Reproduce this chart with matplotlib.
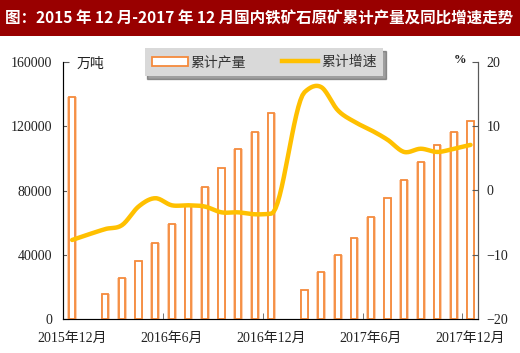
import matplotlib
matplotlib.use('Agg')
import matplotlib.pyplot as plt
from matplotlib.patches import Patch, Rectangle
from matplotlib.lines import Line2D
import numpy as np

plt.rcParams['font.family'] = ['Liberation Serif', 'Noto Sans CJK SC']

# months 2015-12 .. 2017-12 (January has no cumulative data)
months = ['2015-12', '2016-01', '2016-02', '2016-03', '2016-04', '2016-05', '2016-06',
          '2016-07', '2016-08', '2016-09', '2016-10', '2016-11', '2016-12',
          '2017-01', '2017-02', '2017-03', '2017-04', '2017-05', '2017-06',
          '2017-07', '2017-08', '2017-09', '2017-10', '2017-11', '2017-12']
output = [138400, np.nan, 15400, 25300, 36100, 47100, 59300, 70500, 82400, 94200,
          106000, 116400, 128300, np.nan, 18000, 29400, 39800, 50600, 63500,
          75300, 86500, 97600, 108300, 116200, 123300]      # 万吨
growth = [-7.7, np.nan, -6.0, -5.4, -2.5, -1.2, -2.3, -2.3, -2.5, -3.4, -3.4, -3.7,
          -3.6, np.nan, 15.3, 16.1, 12.5, 10.7, 9.4, 7.9, 6.0, 6.5, 6.0, 6.5, 7.1]   # %
tick_idx = [0, 6, 12, 18, 24]
tick_labels = ['2015年12月', '2016年6月', '2016年12月', '2017年6月', '2017年12月']

title = '图：2015 年 12 月-2017 年 12 月国内铁矿石原矿累计产量及同比增速走势'

bar_orange = '#f58a3c'
bar_pale = '#fcd0b0'
line_col = '#ffc000'
axis_col = '#595959'


def smooth(xs, ys, n=16):
    # cubic hermite curve through the points (only for drawing the smoothed line)
    xs = np.asarray(xs, float)
    ys = np.asarray(ys, float)
    h = np.diff(xs)
    d = np.diff(ys) / h
    m = np.zeros(len(xs))
    m[0], m[-1] = d[0], d[-1]
    for i in range(1, len(xs)-1):
        m[i] = (ys[i+1] - ys[i-1]) / (xs[i+1] - xs[i-1])
        if d[i-1]*d[i] > 0:
            lim = 3*min(abs(d[i-1]), abs(d[i]))
            m[i] = np.sign(m[i]) * min(abs(m[i]), lim)
    ox, oy = [], []
    for i in range(len(xs)-1):
        t = np.linspace(0, 1, n, endpoint=False)
        h00 = 2*t**3 - 3*t**2 + 1
        h10 = t**3 - 2*t**2 + t
        h01 = -2*t**3 + 3*t**2
        h11 = t**3 - t**2
        ox.extend(xs[i] + t*h[i])
        oy.extend(h00*ys[i] + h10*h[i]*m[i] + h01*ys[i+1] + h11*h[i]*m[i+1])
    ox.append(xs[-1])
    oy.append(ys[-1])
    return ox, oy


fig = plt.figure(figsize=(5.2, 3.53), dpi=100)
fig.patch.set_facecolor('white')

# title band
fig.patches.append(Rectangle((0, 1-36/353), 1, 36/353, transform=fig.transFigure,
                             facecolor='#990000', edgecolor='none', zorder=0))
fig.text(0.010, 1-18/353, title, color='white', fontsize=11.2, fontweight='bold',
         va='center', ha='left', family=['Noto Sans CJK SC'])

ax = fig.add_axes([63/520, 1-319/353, (478-63)/520, (319-62)/353])
x = np.arange(len(months))
out = np.array(output)
ax.bar(x, out, width=0.58, color=bar_pale, edgecolor='none', zorder=2)
ax.bar(x, out, width=0.38, color='white', edgecolor=bar_orange, linewidth=1.3, zorder=3)

ax.set_xlim(-0.55, 24.45)
ax.set_ylim(0, 160000)
ax.set_yticks([0, 40000, 80000, 120000, 160000])
ax.set_xticks(tick_idx)
ax.set_xticklabels(tick_labels)
ax.set_xticks([5.5, 11.5, 17.5, 23.5], minor=True)
ax.tick_params(axis='x', which='major', length=0, pad=9)
ax.tick_params(axis='x', which='minor', length=4, direction='in', color=axis_col)
ax.tick_params(axis='y', direction='in', length=4, color=axis_col, pad=8)
ax.tick_params(labelsize=10, labelcolor='#222222')
ax.spines['top'].set_visible(False)
for s in ['left', 'bottom', 'right']:
    ax.spines[s].set_color(axis_col)

ax2 = ax.twinx()
g = np.array(growth)
ok = ~np.isnan(g)
sx, sy = smooth(x[ok], g[ok])
ax2.plot(sx, sy, color=line_col, linewidth=3.2, solid_capstyle='round', zorder=4)
ax2.set_ylim(-20, 20)
ax2.set_yticks([-20, -10, 0, 10, 20])
ax2.tick_params(axis='y', direction='in', length=4, color=axis_col, labelsize=10,
                labelcolor='#222222', pad=6)
ax2.spines['top'].set_visible(False)
ax2.spines['right'].set_color(axis_col)
ax2.set_yticklabels(['−20', '−10', '0', '10', '20'])

fig.text(77/520, 1-64/353, '万吨', fontsize=10, color='#222222', va='center', ha='left',
         family=['Noto Sans CJK SC'])
fig.text(460/520, 1-60/353, '%', fontsize=9, color='#222222', va='center', ha='center',
         fontweight='bold')

handles = [Patch(facecolor='white', edgecolor=bar_orange, linewidth=1.3),
           Line2D([0], [0], color=line_col, linewidth=3.2)]
leg = fig.legend(handles, ['累计产量', '累计增速'], ncol=2, loc='center',
                 bbox_to_anchor=(264/520, 1-62/353), frameon=True, shadow=True,
                 fancybox=False, facecolor='#d9d9d9', edgecolor='none',
                 prop={'family': ['Noto Sans CJK SC'], 'size': 10},
                 handlelength=2.6, handleheight=0.6, columnspacing=2.6,
                 borderpad=0.5, handletextpad=0.2, borderaxespad=0.6)
leg.get_frame().set_alpha(1)
for t in leg.get_texts():
    t.set_color('#333333')

fig.savefig('out.png', dpi=100)
